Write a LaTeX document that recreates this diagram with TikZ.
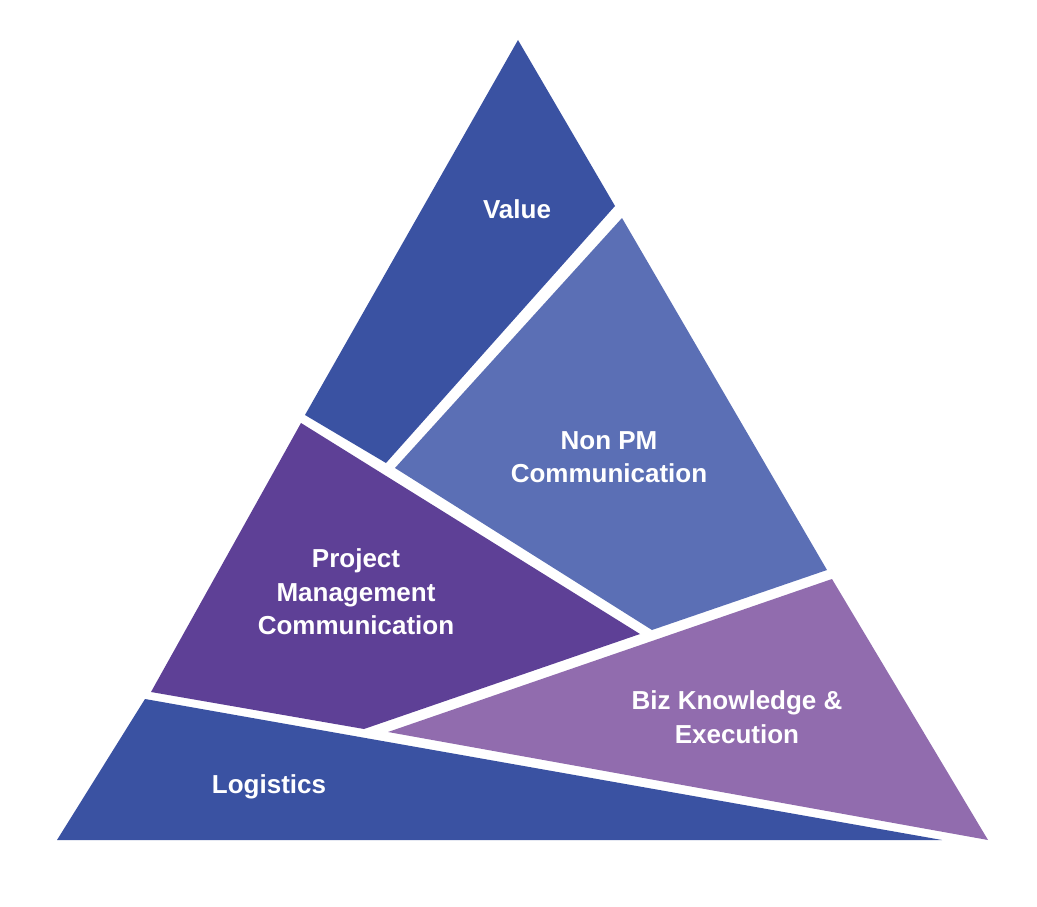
\documentclass[tikz,border=0pt]{standalone}
\usepackage{fontspec}
\setmainfont{Liberation Sans}
\definecolor{darkblue}{HTML}{3A52A2}
\definecolor{midblue}{HTML}{5B6FB5}
\definecolor{deeppurple}{HTML}{5E4096}
\definecolor{lightpurple}{HTML}{916CAE}
\tikzset{
  piece/.style={fill=#1, draw=none},
  lbl/.style={text=white, font=\bfseries\fontsize{26}{33.5}\selectfont, align=center, inner sep=0pt}
}
\begin{document}
\begin{tikzpicture}[x=1pt, y=-1pt]
\useasboundingbox (0,0) rectangle (1037,907);
% pieces
\fill[piece=darkblue] (518,40) -- (615,206) -- (386,463) -- (305,415) -- cycle;
\fill[piece=midblue] (622,218) -- (827,570) -- (652,630) -- (395,468) -- cycle;
\fill[piece=deeppurple] (301,423) -- (640,634) -- (364,729) -- (151,692) -- cycle;
\fill[piece=lightpurple] (832,579) -- (988,840) -- (388,732) -- cycle;
\fill[piece=darkblue] (145,699) -- (942,840) -- (57,840) -- cycle;
% labels
\node[lbl] (value) at (517,209) {Value};
\node[lbl] (nonpm) at (609,457) {Non PM\\Communication};
\node[lbl] (pmc) at (356,592) {Project\\Management\\Communication};
\node[lbl] (biz) at (737,717) {Biz Knowledge \&\\Execution};
\node[lbl] (logi) at (269,787) {Logistics};
\end{tikzpicture}
\end{document}
